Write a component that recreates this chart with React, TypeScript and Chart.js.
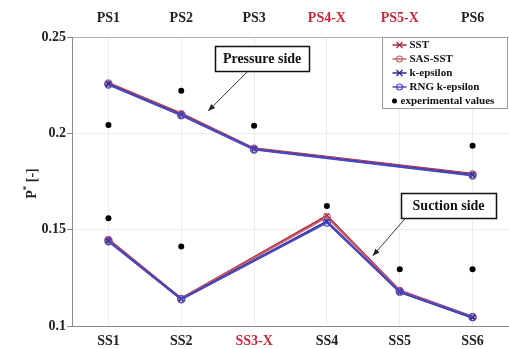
import React, { useEffect, useRef } from "react";
import { Chart, registerables } from "chart.js";

Chart.register(...registerables);

const ssLabels = ["SS1", "SS2", "SS3-X", "SS4", "SS5", "SS6"];
const psLabels = ["PS1", "PS2", "PS3", "PS4-X", "PS5-X", "PS6"];
const yTicks = [0.1, 0.15, 0.2, 0.25];

const sstPS = [0.2262, 0.2103, 0.1922, null, null, 0.179];
const sstSS = [0.145, 0.1143, null, 0.1572, 0.1185, 0.1048];
const sasPS = [0.2259, 0.21, 0.192, null, null, 0.1787];
const sasSS = [0.1447, 0.1141, null, 0.1565, 0.1182, 0.1046];
const kePS = [0.2255, 0.2096, 0.1918, null, null, 0.1784];
const keSS = [0.1441, 0.114, null, 0.1542, 0.1176, 0.1043];
const rngPS = [0.2253, 0.2094, 0.1916, null, null, 0.1781];
const rngSS = [0.144, 0.1138, null, 0.1537, 0.1178, 0.1046];
const expPS = [0.2043, 0.2221, 0.204, null, null, 0.1936];
const expSS = [0.1559, 0.1412, null, 0.1623, 0.1295, 0.1295];

const legendNames = ["SST", "SAS-SST", "k-epsilon", "RNG k-epsilon", "experimental values"];

const C_SST = "#a8243c";
const C_SAS = "#c8646e";
const C_KE = "#24248c";
const C_RNG = "#4a4ac4";
const RED_LABEL = "#c8283c";
const FONT = "'Liberation Serif', 'Times New Roman', serif";

// annotation anchors in data space (category index, value)
const notes = [
  { text: "Pressure side", cx: 2.11, cy: 0.2391, w: 94, h: 25, ax0: 1.92, ay0: 0.2324, ax1: 1.37, ay1: 0.2116 },
  { text: "Suction side", cx: 4.67, cy: 0.1626, w: 95, h: 25, ax0: 4.07, ay0: 0.1556, ax1: 3.63, ay1: 0.1364 },
];

function simDs(label: string, data: (number | null)[], color: string, style: string, order: number) {
  return {
    label,
    data,
    order,
    borderColor: color,
    backgroundColor: style === "circle" ? "rgba(0,0,0,0)" : color,
    pointBorderColor: color,
    pointStyle: style,
    pointRadius: 3.5,
    pointBorderWidth: 1.3,
    borderWidth: 2,
    spanGaps: true,
    tension: 0,
  };
}

function expDs(data: (number | null)[]) {
  return {
    label: "experimental values",
    data,
    order: 0,
    showLine: false,
    pointStyle: "circle",
    pointRadius: 3,
    backgroundColor: "#000",
    borderColor: "#000",
    pointBorderWidth: 0,
  };
}

const overlay = {
  id: "overlay",
  afterDraw(chart: any) {
    const ctx = chart.ctx;
    const x = chart.scales.x;
    const y = chart.scales.y;
    const area = chart.chartArea;
    ctx.save();
    // y-axis title with superscript
    ctx.translate(32, (area.top + area.bottom) / 2 + 2);
    ctx.rotate(-Math.PI / 2);
    ctx.fillStyle = "#222";
    ctx.textBaseline = "middle";
    ctx.font = `bold 14px ${FONT}`;
    const wP = ctx.measureText("P").width;
    ctx.font = `bold 9px ${FONT}`;
    const wS = ctx.measureText("*").width;
    ctx.font = `bold 14px ${FONT}`;
    const wR = ctx.measureText(" [-]").width;
    const total = wP + wS + wR;
    let px = -total / 2;
    ctx.textAlign = "left";
    ctx.fillText("P", px, 0);
    px += wP;
    ctx.font = `bold 9px ${FONT}`;
    ctx.fillText("*", px, -5);
    px += wS;
    ctx.font = `bold 14px ${FONT}`;
    ctx.fillText(" [-]", px, 0);
    ctx.restore();

    // annotations
    ctx.save();
    notes.forEach((n) => {
      const cx = x.getPixelForValue(n.cx);
      const cy = y.getPixelForValue(n.cy);
      const l = Math.round(cx - n.w / 2) + 0.5;
      const t = Math.round(cy - n.h / 2) + 0.5;
      ctx.fillStyle = "#fff";
      ctx.fillRect(l, t, n.w, n.h);
      ctx.strokeStyle = "#111";
      ctx.lineWidth = 1.5;
      ctx.strokeRect(l, t, n.w, n.h);
      ctx.fillStyle = "#111";
      ctx.font = `bold 14px ${FONT}`;
      ctx.textAlign = "center";
      ctx.textBaseline = "middle";
      ctx.fillText(n.text, cx, cy + 1);
      const x0 = x.getPixelForValue(n.ax0);
      const y0 = y.getPixelForValue(n.ay0);
      const x1 = x.getPixelForValue(n.ax1);
      const y1 = y.getPixelForValue(n.ay1);
      ctx.strokeStyle = "#333";
      ctx.lineWidth = 1;
      ctx.beginPath();
      ctx.moveTo(x0, y0);
      ctx.lineTo(x1, y1);
      ctx.stroke();
      const ang = Math.atan2(y1 - y0, x1 - x0);
      const hl = 7, hw = 2.8;
      ctx.beginPath();
      ctx.moveTo(x1, y1);
      ctx.lineTo(x1 - hl * Math.cos(ang) + hw * Math.sin(ang), y1 - hl * Math.sin(ang) - hw * Math.cos(ang));
      ctx.lineTo(x1 - hl * Math.cos(ang) - hw * Math.sin(ang), y1 - hl * Math.sin(ang) + hw * Math.cos(ang));
      ctx.closePath();
      ctx.fillStyle = "#222";
      ctx.fill();
    });
    ctx.restore();

    // legend
    ctx.save();
    const bw = 125, bh = 71;
    const bl = Math.round(area.right - bw - 2) + 0.5;
    const bt = Math.round(area.top) + 0.5;
    ctx.fillStyle = "#fff";
    ctx.fillRect(bl, bt, bw, bh);
    ctx.strokeStyle = "#9a9a9a";
    ctx.lineWidth = 1;
    ctx.strokeRect(bl, bt, bw, bh);
    const colors = [C_SST, C_SAS, C_KE, C_RNG, "#000"];
    const styles = ["crossRot", "circle", "crossRot", "circle", "dot"];
    legendNames.forEach((name, i) => {
      const iy = bt + 7.5 + i * 14;
      const mx = bl + 17;
      ctx.strokeStyle = colors[i];
      if (styles[i] !== "dot") {
        ctx.lineWidth = 1.5;
        ctx.beginPath();
        ctx.moveTo(mx - 7, iy);
        ctx.lineTo(mx + 7, iy);
        ctx.stroke();
        ctx.lineWidth = 1.2;
        if (styles[i] === "crossRot") {
          ctx.beginPath();
          ctx.moveTo(mx - 3, iy - 3);
          ctx.lineTo(mx + 3, iy + 3);
          ctx.moveTo(mx - 3, iy + 3);
          ctx.lineTo(mx + 3, iy - 3);
          ctx.stroke();
        } else {
          ctx.beginPath();
          ctx.arc(mx, iy, 3, 0, Math.PI * 2);
          ctx.stroke();
        }
      } else {
        ctx.fillStyle = "#000";
        ctx.beginPath();
        ctx.arc(mx - 5, iy, 2.5, 0, Math.PI * 2);
        ctx.fill();
      }
      ctx.fillStyle = "#111";
      ctx.font = `bold 11px ${FONT}`;
      ctx.textAlign = "left";
      ctx.textBaseline = "middle";
      ctx.fillText(name, styles[i] === "dot" ? bl + 18 : bl + 27, iy + 0.5);
    });
    ctx.restore();
  },
};

export default function App() {
  const ref = useRef<HTMLCanvasElement | null>(null);
  useEffect(() => {
    document.body.style.margin = "0";
    const canvas = ref.current!;
    const labelColor = (c: any) => (String(c.tick && c.tick.label).includes("-X") ? RED_LABEL : "#222");
    const chart = new Chart(canvas, {
      type: "line",
      data: {
        labels: ssLabels,
        datasets: [
          simDs("SST", sstPS, C_SST, "crossRot", 4),
          simDs("SST", sstSS, C_SST, "crossRot", 4),
          simDs("SAS-SST", sasPS, C_SAS, "circle", 3),
          simDs("SAS-SST", sasSS, C_SAS, "circle", 3),
          simDs("k-epsilon", kePS, C_KE, "crossRot", 2),
          simDs("k-epsilon", keSS, C_KE, "crossRot", 2),
          simDs("RNG k-epsilon", rngPS, C_RNG, "circle", 1),
          simDs("RNG k-epsilon", rngSS, C_RNG, "circle", 1),
          expDs(expPS),
          expDs(expSS),
        ] as any,
      },
      options: {
        animation: false,
        responsive: false,
        layout: { padding: 0, autoPadding: false },
        plugins: { legend: { display: false }, tooltip: { enabled: false } },
        scales: {
          x: {
            type: "category",
            position: "bottom",
            offset: true,
            grid: { color: "#ececec", offset: false, drawTicks: false, tickLength: 0 },
            border: { color: "#8a8a8a" },
            ticks: {
              padding: 7,
              font: { family: FONT, weight: "bold", size: 14 },
              color: labelColor as any,
              maxRotation: 0,
              autoSkip: false,
            },
            afterFit: (s: any) => {
              s.height = 23;
              s.paddingLeft = 0;
              s.paddingRight = 0;
            },
          },
          x2: {
            type: "category",
            position: "top",
            labels: psLabels,
            offset: true,
            grid: { display: false, drawTicks: false, tickLength: 0 },
            border: { display: true, color: "#b0b0b0" },
            ticks: {
              padding: 10,
              font: { family: FONT, weight: "bold", size: 14 },
              color: labelColor as any,
              maxRotation: 0,
              autoSkip: false,
            },
            afterFit: (s: any) => {
              s.height = 37;
              s.paddingLeft = 0;
              s.paddingRight = 0;
            },
          },
          y: {
            type: "linear",
            min: 0.1,
            max: 0.25,
            grid: { color: "#ececec", tickLength: 5, tickColor: "#8a8a8a" },
            border: { color: "#8a8a8a" },
            afterBuildTicks: (s: any) => {
              s.ticks = yTicks.map((v) => ({ value: v }));
            },
            ticks: {
              padding: 1,
              font: { family: FONT, weight: "bold", size: 14 },
              color: "#222",
              callback: (v: any) => String(Number(v)),
            },
            afterFit: (s: any) => {
              s.width = 72;
            },
          },
        },
      },
      plugins: [overlay],
    });
    return () => chart.destroy();
  }, []);
  return <canvas ref={ref} width={509} height={349} style={{ display: "block" }} />;
}
